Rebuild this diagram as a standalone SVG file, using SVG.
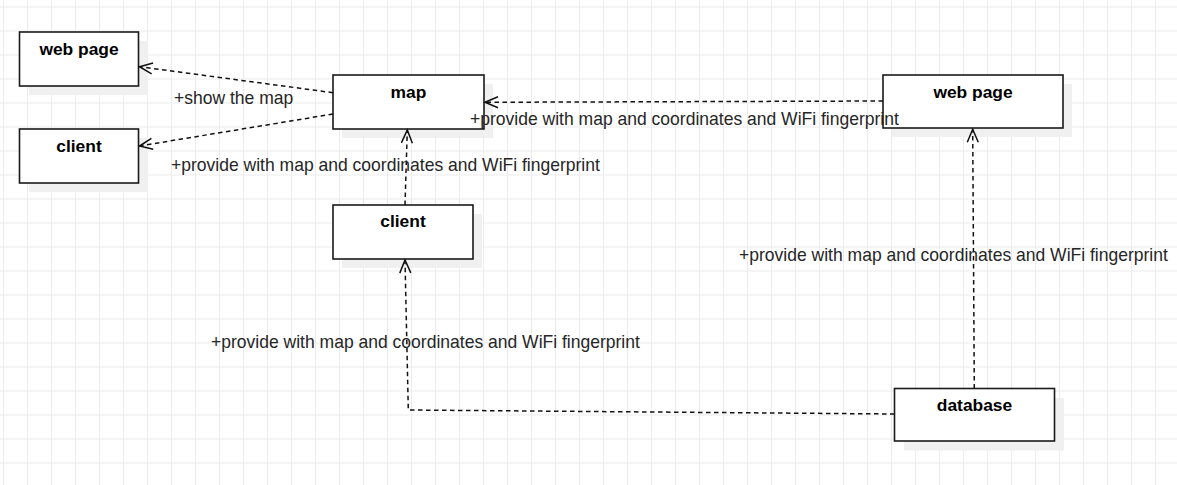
<svg xmlns="http://www.w3.org/2000/svg" width="1177" height="485" viewBox="0 0 1177 485">
<style>
.box{fill:#ffffff;stroke:#1a1a1a;stroke-width:1.6}
.shadow{fill:#f0f0f0;stroke:none}
.title{font-family:"Liberation Sans",Arial,sans-serif;font-size:17.4px;font-weight:bold;fill:#000;text-anchor:middle}
.lbl{font-family:"Liberation Sans",Arial,sans-serif;font-size:17.53px;fill:#262626}
.edge{fill:none;stroke:#111;stroke-width:1.5;stroke-dasharray:4.5 3.5;marker-end:url(#open)}
</style>
<defs>
<pattern id="grid" width="24" height="24" patternUnits="userSpaceOnUse" x="3" y="6.5">
<path d="M0.5,0 V24 M0,0.5 H24" stroke="#ebebeb" stroke-width="1" fill="none"/>
</pattern>
<marker id="open" viewBox="-15 -8 17 16" markerWidth="17" markerHeight="16" refX="0" refY="0" orient="auto" markerUnits="userSpaceOnUse">
<path d="M-13,-5.5 L0,0 L-13,5.5" fill="none" stroke="#111" stroke-width="1.5"/>
</marker>
</defs>
<rect x="0" y="0" width="1177" height="485" fill="#ffffff"/>
<rect x="0" y="0" width="1177" height="485" fill="url(#grid)"/>
<g id="webpage-left">
<rect class="shadow" x="29" y="41" width="119" height="54"/>
<rect class="box" x="19.5" y="32" width="119" height="54"/>
<text class="title" x="79" y="55">web page</text>
</g>
<g id="client-left">
<rect class="shadow" x="29" y="138" width="119" height="54"/>
<rect class="box" x="19.5" y="129" width="119" height="54"/>
<text class="title" x="79" y="151.5">client</text>
</g>
<g id="map">
<rect class="shadow" x="342" y="84" width="151" height="54"/>
<rect class="box" x="333" y="75" width="151" height="54"/>
<text class="title" x="408.5" y="98">map</text>
</g>
<g id="client-mid">
<rect class="shadow" x="342" y="214" width="140" height="54"/>
<rect class="box" x="333" y="205" width="140" height="54"/>
<text class="title" x="403" y="227">client</text>
</g>
<g id="webpage-right">
<rect class="shadow" x="892" y="84" width="180" height="53"/>
<rect class="box" x="883" y="75" width="180" height="53"/>
<text class="title" x="973" y="97.5">web page</text>
</g>
<g id="database">
<rect class="shadow" x="904" y="398" width="160" height="52.5"/>
<rect class="box" x="894.5" y="388.5" width="160" height="52.5"/>
<text class="title" x="974.5" y="411">database</text>
</g>
<g id="connectors">
<path class="edge" d="M333,92.7 L139.5,66.7"/>
<path class="edge" d="M333,114 L139.5,146"/>
<path class="edge" d="M883,101 L485,102.3"/>
<path class="edge" d="M405,205 L407.3,130"/>
<path class="edge" d="M894.5,414 L408.3,410 L405,260"/>
<path class="edge" d="M974.3,388.5 L972.7,129.3"/>
<text class="lbl" x="174" y="103.5">+show the map</text>
<text class="lbl" x="171" y="171">+provide with map and coordinates and WiFi fingerprint</text>
<text class="lbl" x="470" y="125">+provide with map and coordinates and WiFi fingerprint</text>
<text class="lbl" x="211" y="348">+provide with map and coordinates and WiFi fingerprint</text>
<text class="lbl" x="739" y="261">+provide with map and coordinates and WiFi fingerprint</text>
</g>
</svg>
